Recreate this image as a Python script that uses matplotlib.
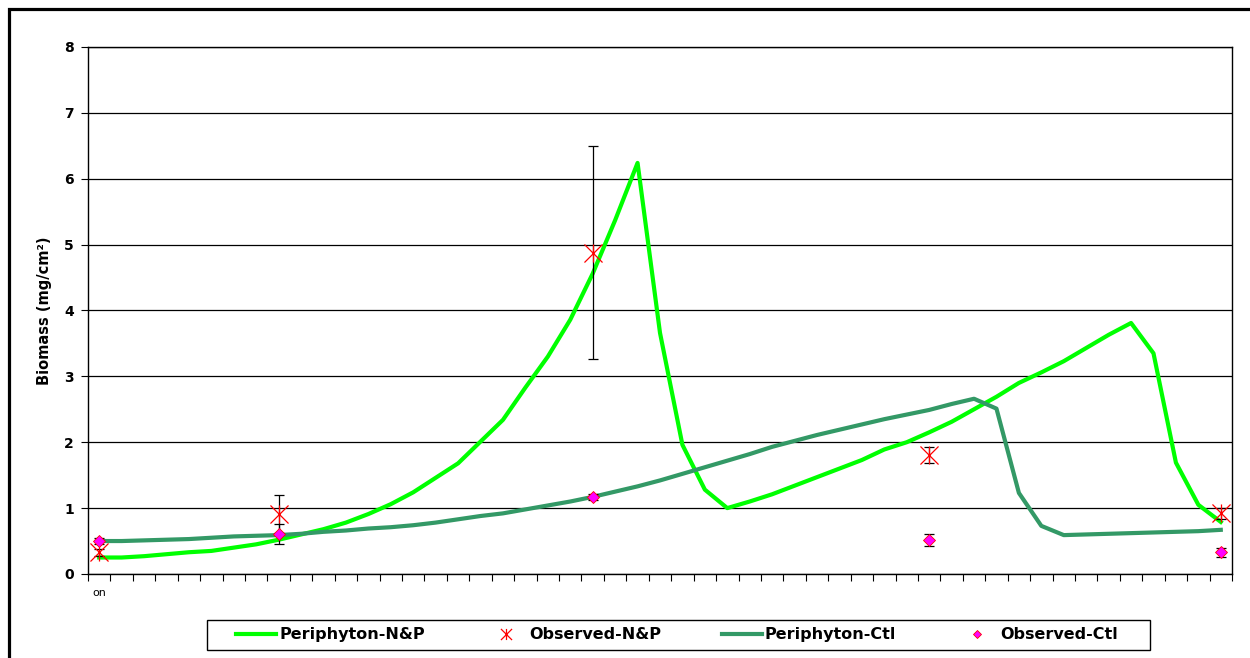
import matplotlib
matplotlib.use('Agg')
from matplotlib import pyplot as plt
from matplotlib.path import Path
from matplotlib.patches import Rectangle
import numpy as np

plt.rcParams['font.family'] = ['DejaVu Sans']

# model runs, one value per category
periphyton_np = [0.25, 0.25, 0.27, 0.30, 0.33, 0.35, 0.40, 0.45, 0.52, 0.60,
                 0.68, 0.78, 0.91, 1.06, 1.24, 1.46, 1.68, 2.01, 2.34, 2.83,
                 3.30, 3.86, 4.56, 5.37, 6.24, 3.66, 1.96, 1.28, 1.00, 1.10,
                 1.21, 1.34, 1.47, 1.60, 1.73, 1.89, 2.00, 2.15, 2.31, 2.50,
                 2.69, 2.90, 3.06, 3.23, 3.43, 3.63, 3.81, 3.35, 1.69, 1.05,
                 0.79]
periphyton_ctl = [0.50, 0.50, 0.51, 0.52, 0.53, 0.55, 0.57, 0.58, 0.59, 0.61,
                  0.64, 0.66, 0.69, 0.71, 0.74, 0.78, 0.83, 0.88, 0.92, 0.98,
                  1.04, 1.10, 1.17, 1.25, 1.33, 1.42, 1.52, 1.62, 1.72, 1.82,
                  1.93, 2.02, 2.11, 2.19, 2.27, 2.35, 2.42, 2.49, 2.58, 2.66,
                  2.51, 1.23, 0.73, 0.59, 0.60, 0.61, 0.62, 0.63, 0.64, 0.65,
                  0.67]

# observations
obs_idx = [0, 8, 22, 37, 50]
obs_np = [0.33, 0.91, 4.88, 1.80, 0.92]
obs_np_err = [0.05, 0.29, 1.62, 0.12, 0.08]
obs_ctl = [0.50, 0.61, 1.17, 0.52, 0.33]
obs_ctl_err = [0.05, 0.15, 0.04, 0.09, 0.07]

xlabels = ['on'] + [''] * 50

x = np.arange(len(periphyton_np))

# excel style star: an x with a vertical bar
star = Path([(-1, -1), (1, 1), (-1, 1), (1, -1), (0, -1), (0, 1)],
            [Path.MOVETO, Path.LINETO, Path.MOVETO, Path.LINETO, Path.MOVETO, Path.LINETO])

fig = plt.figure(figsize=(12.5, 6.58), dpi=100)
ax = fig.add_axes([0.0704, 0.1277, 0.9152, 0.8009])

ax.set_axisbelow(True)
ax.yaxis.grid(True, color='black', linewidth=0.9)

l1, = ax.plot(x, periphyton_np, color='#00FF00', lw=3, label='Periphyton-N&P', zorder=3)
l2, = ax.plot(x, periphyton_ctl, color='#339966', lw=3, label='Periphyton-Ctl', zorder=3)

ax.errorbar(obs_idx, obs_np, yerr=obs_np_err, fmt='none', ecolor='black',
            elinewidth=0.9, capsize=3.6, capthick=0.9, zorder=4)
ax.errorbar(obs_idx, obs_ctl, yerr=obs_ctl_err, fmt='none', ecolor='black',
            elinewidth=0.9, capsize=3.6, capthick=0.9, zorder=4)
m1, = ax.plot(obs_idx, obs_np, ls='none', marker=star, ms=13, mec='red', mew=0.9,
              label='Observed-N&P', zorder=5)
m2, = ax.plot(obs_idx, obs_ctl, ls='none', marker='D', ms=6, mfc='#FF00FF', mec='red',
              mew=0.6, label='Observed-Ctl', zorder=6)

ax.set_xlim(-0.5, 50.5)
ax.set_ylim(0, 8)
ax.set_yticks(range(0, 9))
ax.tick_params(axis='y', labelsize=10, length=5, width=0.8, direction='out', pad=5)
for t in ax.get_yticklabels():
    t.set_fontweight('bold')

ax.set_xticks(np.arange(-0.5, 51, 1))
ax.set_xticklabels([])
ax.set_xticks(x, minor=True)
ax.set_xticklabels(xlabels, minor=True, fontsize=8)
ax.tick_params(axis='x', which='major', length=5, width=0.8, direction='out')
ax.tick_params(axis='x', which='minor', length=0, pad=10)

for s in ax.spines.values():
    s.set_color('black')
    s.set_linewidth(1)

ax.set_ylabel('Biomass (mg/cm²)', fontsize=10.5, fontweight='bold', labelpad=9)

leg = fig.legend(handles=[l1, m1, l2, m2], loc='center', bbox_to_anchor=(0.5416, 0.035),
                 ncol=4, frameon=False, prop={'weight': 'bold', 'size': 11.5},
                 handlelength=2.5, columnspacing=3.8, handletextpad=0.2)
for h in leg.legend_handles:
    if h.get_marker() == 'D':
        h.set_markersize(4.5)
    elif h.get_label() == 'Observed-N&P':
        h.set_markersize(8)

# legend box and outer chart border
fig.patches.append(Rectangle((0.1656, 0.01216), 0.7544, 0.0456, transform=fig.transFigure,
                             fill=False, edgecolor='black', linewidth=1))
fig.patches.append(Rectangle((0.0068, -0.05), 1.2, 0.9856 + 0.05, transform=fig.transFigure,
                             fill=False, edgecolor='black', linewidth=2.3))

plt.savefig('out.png', dpi=100)
print("out.png saved")
